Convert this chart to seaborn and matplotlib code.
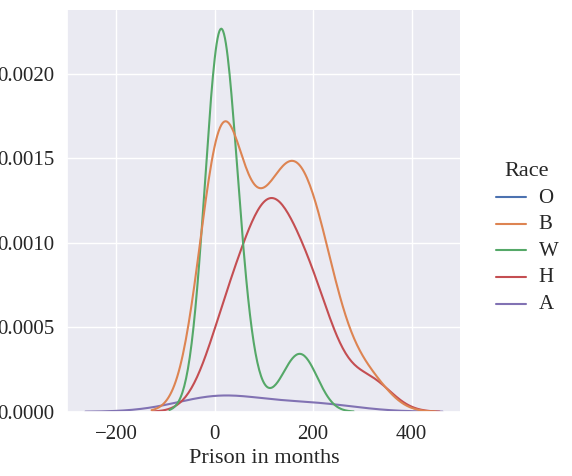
import pandas as pd
import numpy as np
import matplotlib.pyplot as plt
import seaborn as sns

# --- Datos (meses de prisión por raza, leídos aproximadamente) ---
race_order = ['O', 'B', 'W', 'H', 'A']
months_O = [24]
months_B = [0, 0, 0, 2, 4, 5, 6, 8, 10, 12, 12, 15, 18, 20, 24,
            36, 48, 60, 70, 84, 96, 100, 110, 120, 120, 130, 140, 144, 150, 156,
            160, 168, 170, 180, 180, 190, 200, 204, 210, 220, 228, 240, 250, 300, 320]
months_W = [0, 0, 2, 4, 5, 6, 8, 10, 10, 12, 12, 14, 15, 18, 20, 24, 30,
            45, 60, 150, 175, 190]
months_H = [0, 10, 24, 36, 48, 60, 72, 80, 90, 96, 100, 108, 115, 120, 125,
            130, 140, 150, 160, 170, 180, 190, 200, 210, 220, 240, 300, 330]
months_A = [0, 24, 200]

groups = {'O': months_O, 'B': months_B, 'W': months_W, 'H': months_H, 'A': months_A}
df = pd.DataFrame([(r, v) for r in race_order for v in groups[r]],
                  columns=['Race', 'Prison in months'])

sns.set_theme(style='darkgrid')
plt.rcParams['font.family'] = ['Liberation Serif', 'DejaVu Serif']

g = sns.displot(data=df, x='Prison in months', hue='Race', hue_order=race_order,
                kind='kde', height=4.76, aspect=0.95)
g.set_axis_labels('Prison in months', 'Density', fontsize=16)
for ax in g.axes.flat:
    ax.tick_params(labelsize=15)
    ax.set_ylim(0, None)
plt.setp(g.legend.get_texts(), fontsize=15)
g.legend.get_title().set_fontsize(16)
g.figure.set_size_inches(5.72, 4.76)
g.figure.subplots_adjust(left=0.118, right=0.805, bottom=0.135, top=0.98)
g.figure.savefig('out.png', dpi=100)
